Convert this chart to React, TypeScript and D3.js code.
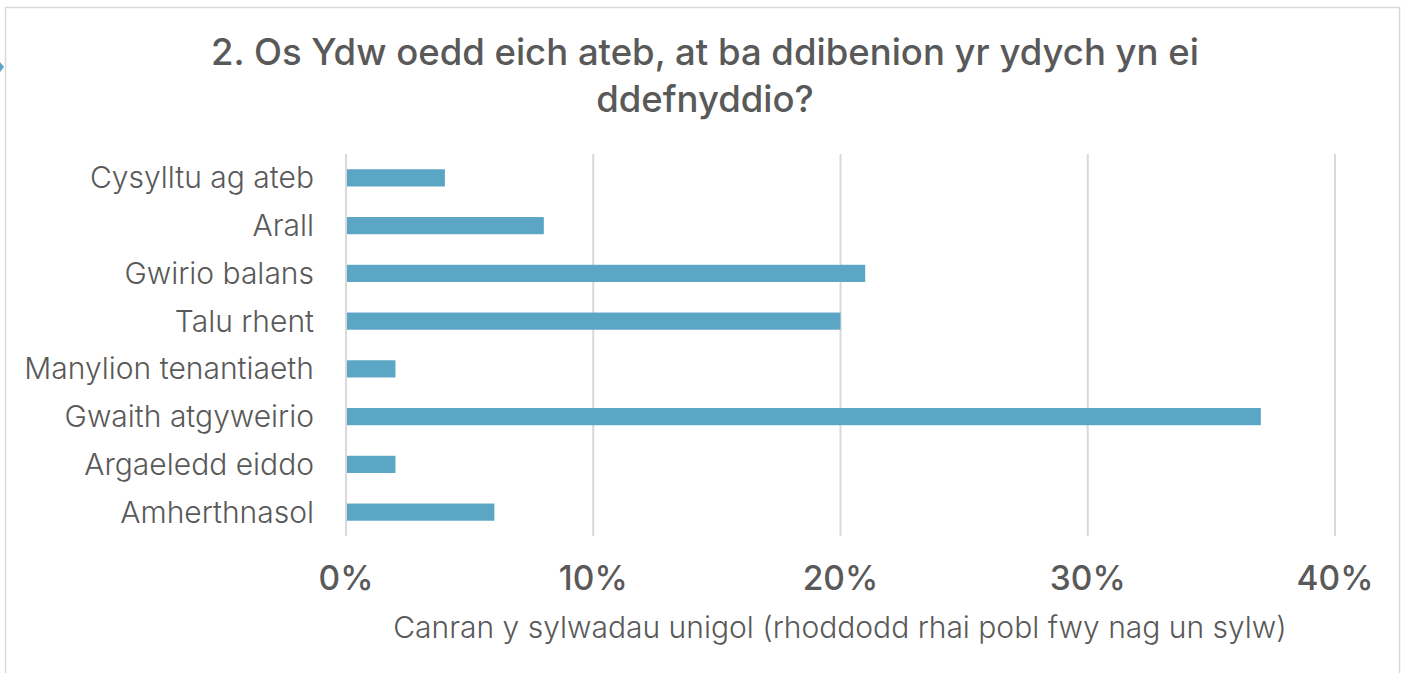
import React from "react";
import * as d3 from "d3";

const categories = [
  "Cysylltu ag ateb",
  "Arall",
  "Gwirio balans",
  "Talu rhent",
  "Manylion tenantiaeth",
  "Gwaith atgyweirio",
  "Argaeledd eiddo",
  "Amherthnasol",
];
const values = [4, 8, 21, 20, 2, 37, 2, 6];
const ticks = [0, 10, 20, 30, 40];
const titleLines = ["2. Os Ydw oedd eich ateb, at ba ddibenion yr ydych yn ei", "ddefnyddio?"];
const xTitle = "Canran y sylwadau unigol (rhoddodd rhai pobl fwy nag un sylw)";

const W = 1405;
const H = 673;
const left = 346;
const right = 1335;
const top = 154;
const bottom = 536;
const font = "Inter, sans-serif";
const grey = "#595959";

export default function App() {
  const x = d3.scaleLinear().domain([0, 40]).range([left, right]);
  const y = d3.scaleBand<string>().domain(categories).range([top, bottom]).paddingInner(0.64).paddingOuter(0.32);
  return (
    <svg width={W} height={H} style={{ position: "absolute", left: 0, top: 0, background: "#fff" }}>
      <rect x={5.5} y={7.5} width={1394} height={700} fill="#fff" stroke="#d9d9d9" strokeWidth={1.5} />
      <path d="M0,62 L4,67 L0,72 Z" fill="#5ba5c5" />
      {titleLines.map((t, i) => (
        <text key={i} x={705} y={65 + i * 47} textAnchor="middle" fontFamily={font} fontSize={36.5} fontWeight={500} fill={grey}>
          {t}
        </text>
      ))}
      {ticks.map((t) => (
        <line key={t} x1={x(t)} x2={x(t)} y1={top} y2={bottom} stroke="#d9d9d9" strokeWidth={2} />
      ))}
      {categories.map((c, i) => (
        <g key={c}>
          <rect x={x(0) + 1} y={y(c)!} width={x(values[i]) - x(0) - 1} height={y.bandwidth()} fill="#5ba5c5" />
          <text x={314} y={y(c)! + y.bandwidth() / 2} dy="0.35em" textAnchor="end" fontFamily={font} fontSize={30} fontWeight={300} fill={grey}>
            {c}
          </text>
        </g>
      ))}
      {ticks.map((t) => (
        <text key={t} x={x(t)} y={590} textAnchor="middle" fontFamily={font} fontSize={33.5} fontWeight={500} fill={grey}>
          {t}%
        </text>
      ))}
      <text x={840} y={638} textAnchor="middle" fontFamily={font} fontSize={30} fontWeight={300} fill={grey}>
        {xTitle}
      </text>
    </svg>
  );
}
